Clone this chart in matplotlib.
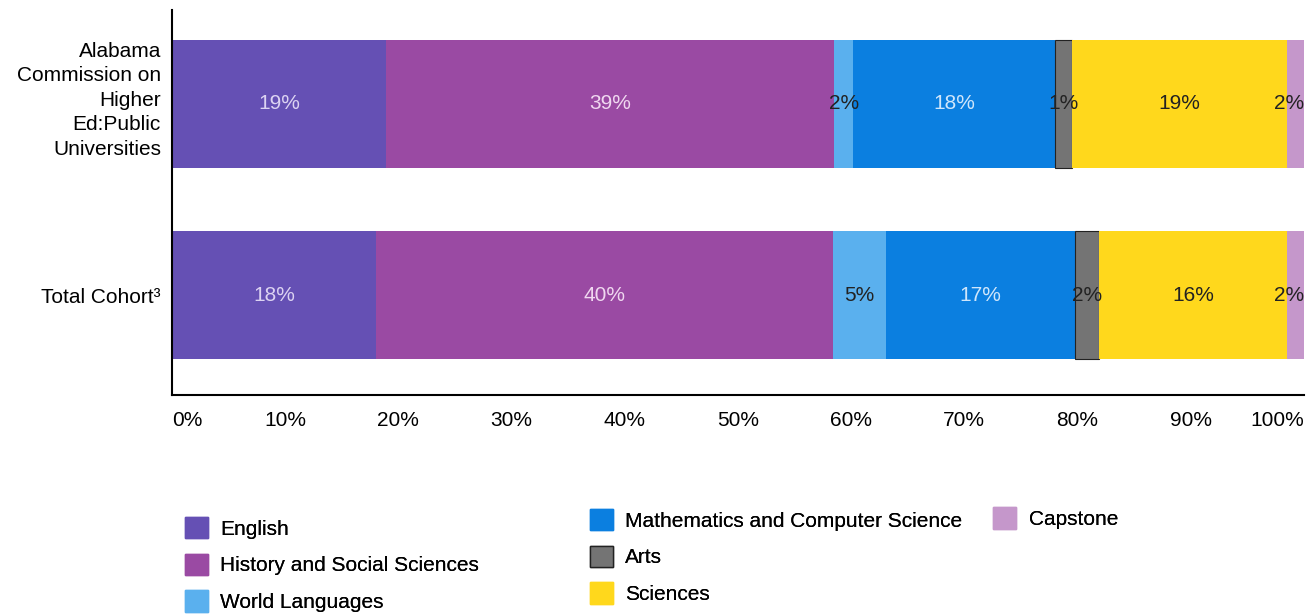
import matplotlib
matplotlib.use("Agg")
import matplotlib.pyplot as plt
from matplotlib.patches import Patch
from matplotlib.ticker import PercentFormatter
from matplotlib.transforms import ScaledTranslation

plt.rcParams['font.family'] = ['Liberation Sans', 'DejaVu Sans']

categories = ["Total Cohort³", "Alabama\nCommission on\nHigher\nEd:Public\nUniversities"]
series = ["English", "History and Social Sciences", "World Languages",
          "Mathematics and Computer Science", "Arts", "Sciences", "Capstone"]
english = [18.0, 18.9]
history = [40.4, 39.6]
world_languages = [4.7, 1.7]
math_cs = [16.7, 17.8]
arts = [2.1, 1.5]
sciences = [16.6, 19.0]
capstone = [1.5, 1.5]
label_english = ["18%", "19%"]
label_history = ["40%", "39%"]
label_world = ["5%", "2%"]
label_math = ["17%", "18%"]
label_arts = ["2%", "1%"]
label_sciences = ["16%", "19%"]
label_capstone = ["2%", "2%"]
x_ticks = [0, 10, 20, 30, 40, 50, 60, 70, 80, 90, 100]

values = [english, history, world_languages, math_cs, arts, sciences, capstone]
labels = [label_english, label_history, label_world, label_math, label_arts,
          label_sciences, label_capstone]
colors = ["#6550B4", "#9A4AA3", "#5AB0EE", "#0B7FE0", "#747474", "#FFD81C", "#C597CB"]
edges = [None, None, None, None, "#222222", None, None]
text_colors = ["#DCD3F2", "#F0D8F0", "#222222", "#CFE6FB", "#222222", "#222222", "#222222"]

fig = plt.figure(figsize=(13.07, 6.14), dpi=100)
ax = fig.add_axes([0.1316, 0.357, 0.866, 0.627])

y = list(range(len(categories)))
left = [0.0] * len(categories)
for i, (vals, lab, col, ec, tc) in enumerate(zip(values, labels, colors, edges, text_colors)):
    bars = ax.barh(y, vals, left=left, height=0.67, color=col,
                   edgecolor=ec if ec else col, linewidth=0.8 if ec else 0)
    anns = ax.bar_label(bars, labels=lab, label_type='center', color=tc, fontsize=15)
    if i == len(values) - 1:
        for a in anns:
            a.set_horizontalalignment('right')
            a.xyann = (6, 0)
    left = [l + v for l, v in zip(left, vals)]

ax.set_xlim(0, 100)
ax.set_ylim(-0.52, 1.49)
ax.set_yticks(y)
ax.set_yticklabels(categories, fontsize=15, linespacing=1.36)
ax.set_xticks(x_ticks)
ax.xaxis.set_major_formatter(PercentFormatter(decimals=0))
ax.tick_params(axis='x', length=0, pad=12, labelsize=15)
ax.tick_params(axis='y', length=0, pad=8)
xt = ax.get_xticklabels()
xt[0].set_horizontalalignment('left')
xt[-1].set_horizontalalignment('right')
yl = ax.get_yticklabels()
yl[1].set_transform(yl[1].get_transform() + ScaledTranslation(0, 0.08, fig.dpi_scale_trans))
for s in ['top', 'right']:
    ax.spines[s].set_visible(False)
ax.spines['left'].set_linewidth(1.5)
ax.spines['bottom'].set_linewidth(1.5)

handles = [Patch(facecolor=c, edgecolor=(e if e else c)) for c, e in zip(colors, edges)]
groups = [(0, 3, 0.1415, 0.158), (3, 6, 0.4514, 0.171), (6, 7, 0.76, 0.174)]
for a, b, xl, yt in groups:
    leg = fig.legend(handles[a:b], series[a:b], loc='upper left',
                     bbox_to_anchor=(xl, yt), frameon=False, fontsize=15,
                     handlelength=1.1, handleheight=1.2, handletextpad=0.6,
                     labelspacing=0.72, borderaxespad=0, borderpad=0)
    fig.add_artist(leg)

fig.savefig("out.png", dpi=100)
